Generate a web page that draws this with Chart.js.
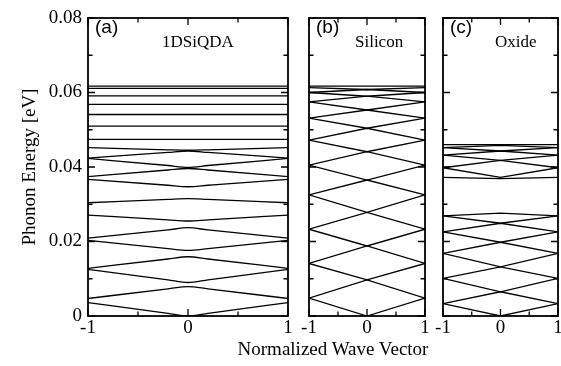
<!DOCTYPE html>
<html>
<head>
<meta charset="utf-8">
<script src="https://cdn.jsdelivr.net/npm/chart.js@4.4.1/dist/chart.umd.min.js"></script>
<style>
  html, body { margin: 0; padding: 0; background: #fff; }
  #wrap { position: relative; width: 561px; height: 366px; overflow: hidden; }
  #wrap canvas { position: absolute; top: 0; }
  #xtitle {
    position: absolute; left: 183px; width: 300px; top: 338px;
    text-align: center; font: 19px "Liberation Serif", serif; line-height: 22px; color: #000;
  }
</style>
</head>
<body>
<div id="wrap">
  <canvas id="panelA" width="298" height="366" style="left:0px"></canvas>
  <canvas id="panelB" width="137" height="366" style="left:298px"></canvas>
  <canvas id="panelC" width="126" height="366" style="left:435px"></canvas>
  <div id="xtitle">Normalized Wave Vector</div>
</div>
<script>
// axis ticks
var xTickValues = [-1, 0, 1];
var xTickLabels = ['-1', '0', '1'];
var xMinorTicks = [-0.5, 0.5];
var yTickValues = [0, 0.02, 0.04, 0.06, 0.08];
var yTickLabels = ['0', '0.02', '0.04', '0.06', '0.08'];
var yMinorTicks = [0.01, 0.03, 0.05, 0.07];

var panelTags = ['(a)', '(b)', '(c)'];
var panelNames = ['1DSiQDA', 'Silicon', 'Oxide'];

// (a) 1DSiQDA: folded bands sampled at these wave vectors
var kSiqda = [-1, -0.2, 0, 0.2, 1];
var siqdaBands = [
  [0.0036, 0.0007, 0.0000, 0.0007, 0.0036],
  [0.0047, 0.0073, 0.0079, 0.0073, 0.0047],
  [0.0125, 0.0097, 0.0090, 0.0097, 0.0125],
  [0.0128, 0.0153, 0.0159, 0.0153, 0.0128],
  [0.0203, 0.0181, 0.0176, 0.0181, 0.0203],
  [0.0209, 0.0231, 0.0237, 0.0231, 0.0209],
  [0.0271, 0.0258, 0.0255, 0.0258, 0.0271],
  [0.0304, 0.0313, 0.0315, 0.0313, 0.0304],
  [0.0367, 0.0351, 0.0347, 0.0351, 0.0367],
  [0.0374, 0.0392, 0.0396, 0.0392, 0.0374],
  [0.0423, 0.0404, 0.0399, 0.0404, 0.0423],
  [0.0424, 0.0439, 0.0443, 0.0439, 0.0424],
  [0.0452, 0.0446, 0.0445, 0.0446, 0.0452]
];
var siqdaFlat = [0.0474, 0.0510, 0.0541, 0.0568, 0.0591, 0.0611, 0.0617];

// (b) Silicon: edge / centre / edge
var kSilicon = [-1, 0, 1];
var siliconBands = [
  [0.0048, 0.0000, 0.0048],
  [0.0048, 0.0097, 0.0048],
  [0.0141, 0.0097, 0.0141],
  [0.0141, 0.0188, 0.0141],
  [0.0233, 0.0188, 0.0233],
  [0.0233, 0.0278, 0.0233],
  [0.0325, 0.0278, 0.0325],
  [0.0325, 0.0365, 0.0325],
  [0.0405, 0.0365, 0.0405],
  [0.0405, 0.0441, 0.0405],
  [0.0472, 0.0441, 0.0472],
  [0.0472, 0.0504, 0.0472],
  [0.0531, 0.0504, 0.0531],
  [0.0531, 0.0553, 0.0531],
  [0.0575, 0.0553, 0.0575],
  [0.0575, 0.0590, 0.0575],
  [0.0600, 0.0590, 0.0600],
  [0.0600, 0.0608, 0.0600],
  [0.0613, 0.0608, 0.0613]
];
var siliconFlat = [0.0617];

// (c) Oxide
var kOxide = [-1, 0, 1];
var oxideBands = [
  [0.0033, 0.0000, 0.0033],
  [0.0033, 0.0065, 0.0033],
  [0.0101, 0.0065, 0.0101],
  [0.0101, 0.0132, 0.0101],
  [0.0168, 0.0132, 0.0168],
  [0.0168, 0.0198, 0.0168],
  [0.0226, 0.0198, 0.0226],
  [0.0226, 0.0249, 0.0226],
  [0.0269, 0.0249, 0.0269],
  [0.0269, 0.0276, 0.0269],
  [0.0372, 0.0369, 0.0372],
  [0.0398, 0.0372, 0.0398],
  [0.0398, 0.0418, 0.0398],
  [0.0432, 0.0418, 0.0432],
  [0.0432, 0.0443, 0.0432],
  [0.0452, 0.0443, 0.0452],
  [0.0452, 0.0458, 0.0452]
];
var oxideFlat = [0.0460];

var kEnds = [-1, 1];

function buildSets(k, bands, flats, smooth) {
  var sets = [];
  bands.forEach(function(b) {
    sets.push({
      data: k.map(function(x, i) { return {x: x, y: b[i]}; }),
      cubicInterpolationMode: smooth ? 'monotone' : 'default'
    });
  });
  flats.forEach(function(v) {
    sets.push({ data: kEnds.map(function(x) { return {x: x, y: v}; }) });
  });
  return sets;
}

// frame, inward ticks on all four sides, panel captions
var framePlugin = {
  id: 'frame',
  afterDraw: function(chart, args, opts) {
    var ctx = chart.ctx, a = chart.chartArea;
    var xs = chart.scales.x, ys = chart.scales.y;
    ctx.save();
    ctx.strokeStyle = '#000';
    ctx.lineWidth = 1.3;
    ctx.beginPath();
    function xt(v, len) {
      var p = xs.getPixelForValue(v);
      ctx.moveTo(p, a.bottom); ctx.lineTo(p, a.bottom - len);
      ctx.moveTo(p, a.top); ctx.lineTo(p, a.top + len);
    }
    function yt(v, len) {
      var p = ys.getPixelForValue(v);
      ctx.moveTo(a.left, p); ctx.lineTo(a.left + len, p);
      ctx.moveTo(a.right, p); ctx.lineTo(a.right - len, p);
    }
    xTickValues.forEach(function(v) { xt(v, 7); });
    xMinorTicks.forEach(function(v) { xt(v, 4.5); });
    yTickValues.forEach(function(v) { yt(v, 7); });
    yMinorTicks.forEach(function(v) { yt(v, 4.5); });
    ctx.stroke();

    ctx.lineWidth = 1.8;
    ctx.strokeRect(a.left, a.top, a.right - a.left, a.bottom - a.top);

    ctx.fillStyle = '#000';
    ctx.textBaseline = 'middle';
    ctx.textAlign = 'left';
    ctx.font = '19px "Liberation Sans", sans-serif';
    ctx.fillText(panelTags[opts.index], a.left + 7, a.top + 10);
    ctx.font = '17px "Liberation Serif", serif';
    ctx.fillText(panelNames[opts.index], a.left + opts.nameX, a.top + 25);
    ctx.restore();
  }
};

function makePanel(id, index, sets, showY, pad, nameX) {
  return new Chart(document.getElementById(id), {
    type: 'line',
    data: { datasets: sets },
    plugins: [framePlugin],
    options: {
      responsive: false,
      animation: false,
      layout: { padding: pad },
      elements: {
        line: { borderColor: '#000', borderWidth: 1.3, tension: 0 },
        point: { radius: 0 }
      },
      plugins: {
        legend: { display: false },
        tooltip: { enabled: false },
        frame: { index: index, nameX: nameX }
      },
      scales: {
        x: {
          type: 'linear', min: -1, max: 1,
          grid: { display: false, drawTicks: false }, border: { display: false },
          afterBuildTicks: function(s) { s.ticks = xTickValues.map(function(v) { return {value: v}; }); },
          afterFit: function(s) { s.height = 50; s.paddingLeft = 0; s.paddingRight = 0; },
          ticks: {
            color: '#000', padding: 1, maxRotation: 0, autoSkip: false,
            font: { family: '"Liberation Serif", serif', size: 19 },
            callback: function(v, i) { return xTickLabels[i]; }
          }
        },
        y: {
          type: 'linear', min: 0, max: 0.08, display: showY,
          grid: { display: false, drawTicks: false }, border: { display: false },
          afterBuildTicks: function(s) { s.ticks = yTickValues.map(function(v) { return {value: v}; }); },
          afterFit: function(s) { s.width = showY ? 88 : 0; s.paddingTop = 0; s.paddingBottom = 0; },
          title: {
            display: showY, text: 'Phonon Energy [eV]', color: '#000',
            font: { family: '"Liberation Serif", serif', size: 19 },
            padding: { top: 19, bottom: 0 }
          },
          ticks: {
            color: '#000', padding: 6,
            font: { family: '"Liberation Serif", serif', size: 19 },
            callback: function(v, i) { return yTickLabels[i]; }
          }
        }
      }
    }
  });
}

makePanel('panelA', 0, buildSets(kSiqda, siqdaBands, siqdaFlat, true), true,
  { left: 0, right: 10, top: 18, bottom: 0 }, 74);
makePanel('panelB', 1, buildSets(kSilicon, siliconBands, siliconFlat, false), false,
  { left: 11, right: 10, top: 18, bottom: 0 }, 46);
makePanel('panelC', 2, buildSets(kOxide, oxideBands, oxideFlat, false), false,
  { left: 8, right: 3, top: 18, bottom: 0 }, 52);
</script>
</body>
</html>
